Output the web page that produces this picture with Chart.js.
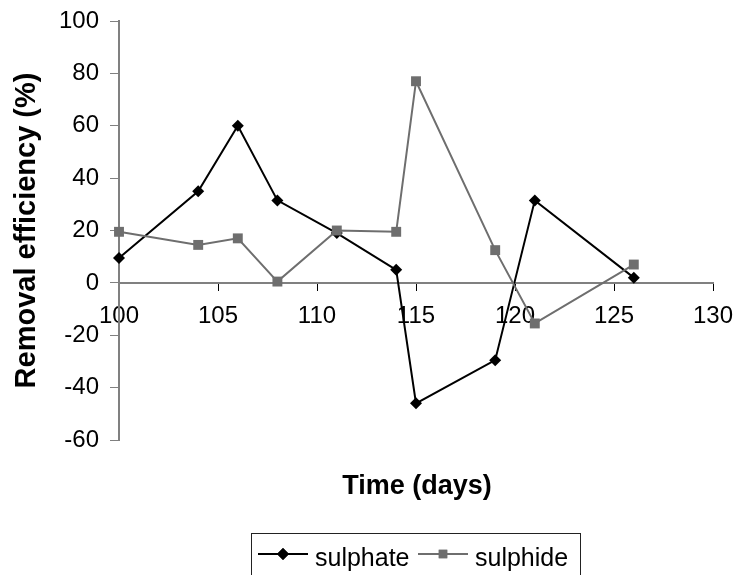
<!DOCTYPE html>
<html>
<head>
<meta charset="utf-8">
<title>Removal efficiency</title>
<script src="https://cdn.jsdelivr.net/npm/chart.js@4.4.1/dist/chart.umd.min.js"></script>
<style>
  html, body { margin: 0; padding: 0; background: #fff; }
  #wrap { width: 733px; height: 575px; }
</style>
</head>
<body>
<div id="wrap"><canvas id="chart" width="733" height="575"></canvas></div>
<script>
// ===== data =====
const days = [100, 104, 106, 108, 111, 114, 115, 119, 121, 126];
const sulphate = [9.5, 35, 60, 31.5, 19, 5, -46, -29.5, 31.5, 2];
const sulphide = [19.5, 14.5, 17, 0.5, 20, 19.5, 77, 12.5, -15.5, 7];
const seriesNames = ['sulphate', 'sulphide'];
const xTitle = 'Time (days)';
const yTitle = 'Removal efficiency (%)';

const FONT = 'Arial, "Liberation Sans", sans-serif';
const BLACK = '#000000';
const GREY = '#6e6e6e';
const AXIS = '#808080';

function pts(ys) { return days.map((d, i) => ({ x: d, y: ys[i] })); }

// x title + boxed legend (line with marker in the middle), drawn under the plot
const extras = {
  id: 'extras',
  afterDraw(chart) {
    const ctx = chart.ctx;
    ctx.save();
    ctx.fillStyle = '#000';
    ctx.font = 'bold 27px ' + FONT;
    ctx.textAlign = 'center';
    ctx.textBaseline = 'alphabetic';
    ctx.fillText(xTitle, 417, 494);

    // legend box
    ctx.strokeStyle = '#222';
    ctx.lineWidth = 1;
    ctx.strokeRect(251.5, 533.5, 329, 80);

    const items = [
      { name: seriesNames[0], color: BLACK, style: 'rectRot', r: 6, x0: 258 },
      { name: seriesNames[1], color: GREY, style: 'rect', r: 6, x0: 418 }
    ];
    ctx.font = '25px ' + FONT;
    ctx.textAlign = 'left';
    items.forEach(it => {
      ctx.strokeStyle = it.color;
      ctx.lineWidth = 2;
      ctx.beginPath();
      ctx.moveTo(it.x0, 554);
      ctx.lineTo(it.x0 + 50, 554);
      ctx.stroke();
      ctx.fillStyle = it.color;
      Chart.helpers.drawPoint(ctx, { pointStyle: it.style, radius: it.r, borderWidth: 0 }, it.x0 + 25, 554);
      ctx.fill();
      ctx.fillStyle = '#000';
      ctx.fillText(it.name, it.x0 + 57, 566);
    });
    ctx.restore();
  }
};

new Chart(document.getElementById('chart'), {
  type: 'line',
  data: {
    datasets: [{
      label: seriesNames[0],
      data: pts(sulphate),
      borderColor: BLACK,
      backgroundColor: BLACK,
      borderWidth: 2,
      pointStyle: 'rectRot',
      pointRadius: 6,
      pointBorderWidth: 0,
      tension: 0,
      order: 1,
      clip: false
    }, {
      label: seriesNames[1],
      data: pts(sulphide),
      borderColor: GREY,
      backgroundColor: GREY,
      borderWidth: 2,
      pointStyle: 'rect',
      pointRadius: 7,
      pointBorderWidth: 0,
      tension: 0,
      order: 0,
      clip: false
    }]
  },
  options: {
    responsive: false,
    animation: false,
    layout: { padding: { left: 0, right: 20, top: 21, bottom: 135 } },
    plugins: {
      legend: { display: false },
      tooltip: { enabled: false }
    },
    scales: {
      x: {
        type: 'linear',
        position: { y: 0 },
        min: 100, max: 130,
        afterFit(scale) { scale.paddingLeft = 0; scale.paddingRight = 0; },
        ticks: { stepSize: 5, color: '#000', padding: 12, maxRotation: 0,
                 font: { family: FONT, size: 24 } },
        grid: { display: true, drawOnChartArea: false, drawTicks: true, tickLength: 7,
                color: '#000', lineWidth: 1 },
        border: { display: true, color: AXIS, width: 2 },
        title: { display: false }
      },
      y: {
        type: 'linear',
        min: -60, max: 100,
        afterFit(scale) { scale.width = 119; scale.paddingTop = 0; scale.paddingBottom = 0; },
        ticks: { stepSize: 20, color: '#000', padding: 11,
                 font: { family: FONT, size: 24 } },
        grid: { display: true, drawOnChartArea: false, drawTicks: true, tickLength: 9,
                color: AXIS, lineWidth: 1 },
        border: { display: true, color: AXIS, width: 2 },
        title: { display: true, text: yTitle, color: '#000',
                 padding: { top: 10, bottom: 0 },
                 font: { family: FONT, size: 29, weight: 'bold' } }
      }
    }
  },
  plugins: [extras]
});
</script>
</body>
</html>
